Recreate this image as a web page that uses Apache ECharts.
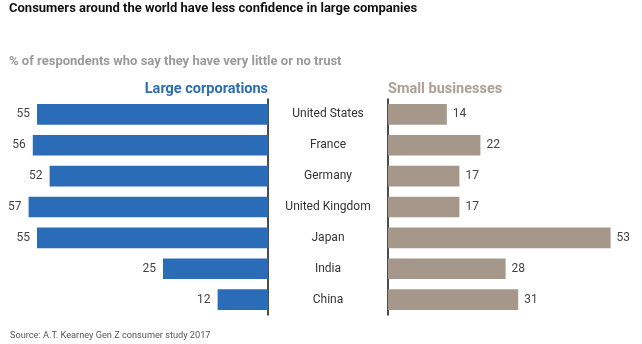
<!DOCTYPE html>
<html>
<head>
<meta charset="utf-8">
<script src="https://cdn.jsdelivr.net/npm/echarts@6/dist/echarts.min.js"></script>
<style>html,body{margin:0;padding:0;background:#fff;}#c{width:642px;height:344px;}</style>
</head>
<body>
<div id="c"></div>
<script>
const categories = ['United States', 'France', 'Germany', 'United Kingdom', 'Japan', 'India', 'China'];
const largeCorporations = [55, 56, 52, 57, 55, 25, 12];
const smallBusinesses = [14, 22, 17, 17, 53, 28, 31];

const chart = echarts.init(document.getElementById('c'));
const FONT = 'Roboto';
chart.setOption({
  animation: false,
  backgroundColor: '#fff',
  title: [
    { text: 'Consumers around the world have less confidence in large companies', left: 9, top: 2, padding: 0,
      textStyle: { fontFamily: FONT, fontWeight: 'bold', fontSize: 13, color: '#111' } },
    { text: '% of respondents who say they have very little or no trust', left: 9, top: 55, padding: 0,
      textStyle: { fontFamily: FONT, fontWeight: 'bold', fontSize: 13, color: '#9a9a9a' } },
    { text: 'Large corporations', right: 374, top: 82, padding: 0,
      textStyle: { fontFamily: FONT, fontWeight: 'bold', fontSize: 14.5, color: '#2f6db3' } },
    { text: 'Small businesses', left: 388, top: 82, padding: 0,
      textStyle: { fontFamily: FONT, fontWeight: 'bold', fontSize: 14.5, color: '#aaa096' } },
    { text: 'Source: A.T. Kearney Gen Z consumer study 2017', left: 10, top: 331, padding: 0,
      textStyle: { fontFamily: FONT, fontWeight: 'normal', fontSize: 9.2, color: '#555' } }
  ],
  grid: [
    { left: 16, right: 374, top: 99, bottom: 29 },
    { left: 388, right: 2, top: 99, bottom: 29 }
  ],
  xAxis: [
    { gridIndex: 0, type: 'value', min: 0, max: 60, inverse: true, show: false },
    { gridIndex: 1, type: 'value', min: 0, max: 60, show: false }
  ],
  yAxis: [
    { gridIndex: 0, type: 'category', data: categories, inverse: true, position: 'right',
      axisLine: { show: true, lineStyle: { color: '#111', width: 1.5 } }, axisTick: { show: false },
      axisLabel: { show: true, margin: 60, align: 'center', fontFamily: FONT, fontSize: 12, color: '#333' } },
    { gridIndex: 1, type: 'category', data: categories, inverse: true, position: 'left',
      axisLine: { show: true, lineStyle: { color: '#111', width: 1.5 } }, axisTick: { show: false },
      axisLabel: { show: false } }
  ],
  series: [
    { type: 'bar', xAxisIndex: 0, yAxisIndex: 0, data: largeCorporations, barCategoryGap: '33%',
      itemStyle: { color: '#2b6cb8' },
      label: { show: true, position: 'left', distance: 7, fontFamily: FONT, fontSize: 12, color: '#444' } },
    { type: 'bar', xAxisIndex: 1, yAxisIndex: 1, data: smallBusinesses, barCategoryGap: '33%',
      itemStyle: { color: '#a6978b' },
      label: { show: true, position: 'right', distance: 6, fontFamily: FONT, fontSize: 12, color: '#444' } }
  ]
});
</script>
</body>
</html>
